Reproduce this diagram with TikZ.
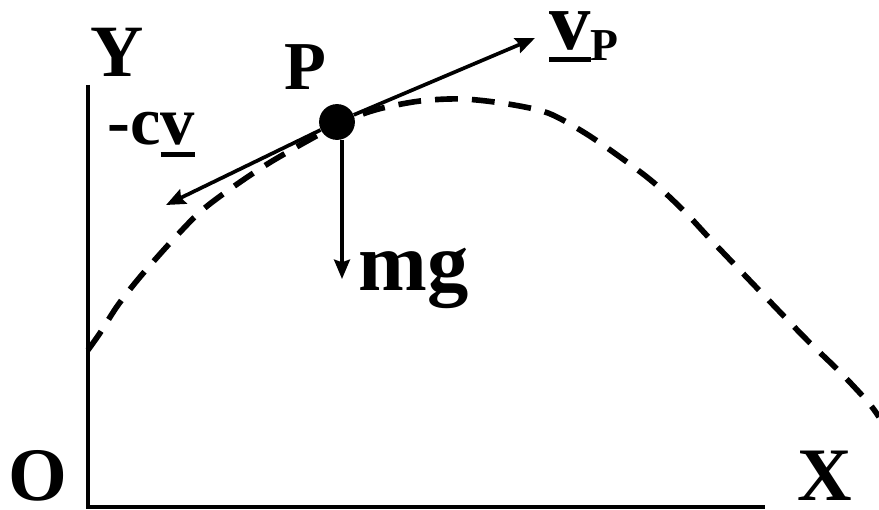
\documentclass[tikz,border=0pt]{standalone}
\usepackage{fontspec}
\setmainfont{Liberation Serif}
\usetikzlibrary{arrows.meta}
\newcommand\ulvec[1]{\setbox0\hbox{#1}\rlap{\raisebox{-6.8pt}{\rule{\wd0}{2.8pt}}}\box0}

\begin{document}
\begin{tikzpicture}[x=0.02cm,y=-0.02cm,
  lbl/.style={inner sep=0pt,font=\fontsize{#1}{#1}\selectfont\bfseries},
  force/.style={line width=2.1pt,-{Stealth[length=11pt,width=9pt,inset=1.5pt]}},
  axis/.style={line width=2.6pt}]
\useasboundingbox (0,0) rectangle (879,510);
\coordinate (O) at (88,507);
\coordinate (Ytop) at (88,85);
\coordinate (Xend) at (765,507);
\draw[axis] (Ytop) -- (O) -- (Xend);
\draw[line width=3.2pt,dash pattern=on 13pt off 8pt] plot[smooth] coordinates {(88,350) (100,333) (118,305) (140,277) (170,243) (200,212) (233,187) (274,160) (337,125) (375,110) (420,101) (463,99) (508,104) (548,113) (585,133) (620,157) (653,182) (685,212) (713,242) (778,310) (809,342) (840,372) (868,402) (879,417)};
\node[circle,fill,minimum size=20.4pt,inner sep=0pt] (P) at (337,122) {};
\coordinate (vtip) at (535,38);
\coordinate (cvtip) at (166,205);
\coordinate (gtip) at (342,279);
\draw[force] (P) -- (vtip);
\draw[force] (P) -- (cvtip);
\draw[force] (P.south -| gtip) -- (gtip);
\node[lbl=42,anchor=base] (ylbl) at (117,77) {Y};
\node[lbl=39,anchor=base] (plbl) at (305,90) {P};
\node[lbl=39,anchor=base west] (cvlbl) at (107,145) {-c\ulvec{v}};
\node[lbl=47,anchor=base west] (mglbl) at (358,290) {mg};
\node[lbl=43,anchor=base] (olbl) at (38,500) {O};
\node[lbl=43,anchor=base] (xlbl) at (825,500) {X};
\node[lbl=47,anchor=base west] (vlbl) at (549,50) {\ulvec{v}\raisebox{-5.7pt}{\fontsize{26}{26}\selectfont P}};
\end{tikzpicture}
\end{document}
